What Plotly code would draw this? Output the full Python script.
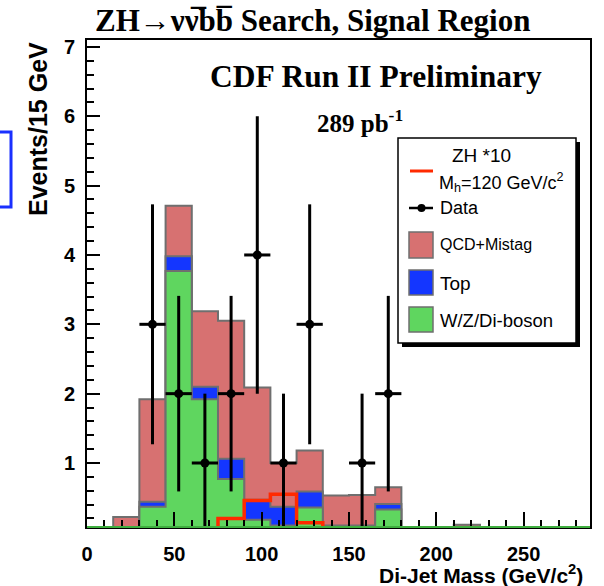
import plotly.graph_objects as go

# ---------------- data ----------------
bin_edges = [0, 15, 30, 45, 60, 75, 90, 105, 120, 135, 150, 165, 180, 195, 210, 225, 240, 255, 270, 285]
wz_diboson = [0, 0, 0.37, 3.77, 1.92, 0.77, 0.18, 0.10, 0.36, 0.05, 0.05, 0.33, 0, 0, 0, 0, 0, 0, 0]
top_vals = [0, 0, 0.07, 0.21, 0.18, 0.29, 0.29, 0.27, 0.23, 0.05, 0.05, 0.08, 0, 0, 0, 0, 0, 0, 0]
qcd_mistag = [0, 0.22, 1.48, 0.73, 1.09, 1.99, 1.62, 0.63, 0.59, 0.43, 0.44, 0.24, 0, 0, 0.11, 0, 0, 0, 0]
zh_x10 = [0, 0, 0, 0, 0, 0.20, 0.46, 0.55, 0.14, 0, 0, 0, 0, 0, 0, 0, 0, 0, 0]
data_counts = [0, 0, 3, 2, 1, 2, 4, 1, 3, 0, 1, 2, 0, 0, 0, 0, 0, 0, 0]
data_errors = [0, 0, 1.73, 1.41, 1.0, 1.41, 2.0, 1.0, 1.73, 0, 1.0, 1.41, 0, 0, 0, 0, 0, 0, 0]

# ---------------- styling ----------------
C_QCD = "#d77171"
C_TOP = "#1436ff"
C_WZ = "#5fd65f"
C_OUT = "#6f6f6f"
C_ZH = "#ff2a00"
SERIF = "Liberation Serif"
SANS = "Liberation Sans"

W, H = 604, 586
L, R, T, B = 87, 590, 40, 527  # plot area in pixels


def px(x):
    return (x - L) / (R - L)


def py(y):
    return (B - y) / (B - T)


def step(vals):
    return list(vals) + [vals[-1]]


cum_wz = wz_diboson
cum_top = [a + b for a, b in zip(wz_diboson, top_vals)]
cum_all = [a + b for a, b in zip(cum_top, qcd_mistag)]

fig = go.Figure()
for cum, col in [(cum_all, C_QCD), (cum_top, C_TOP), (cum_wz, C_WZ)]:
    fig.add_trace(go.Scatter(
        x=bin_edges, y=step(cum), mode="lines", line_shape="hv",
        line=dict(color=C_OUT, width=2), fill="tozeroy", fillcolor=col,
        showlegend=False, hoverinfo="skip"))

fig.add_trace(go.Scatter(
    x=bin_edges, y=step(zh_x10), mode="lines", line_shape="hv",
    line=dict(color=C_ZH, width=3.5), showlegend=False))

centers = [(bin_edges[i] + bin_edges[i + 1]) / 2 for i in range(len(data_counts))]
dx = [c for c, n in zip(centers, data_counts) if n > 0]
dy = [n for n in data_counts if n > 0]
de = [e for e, n in zip(data_errors, data_counts) if n > 0]
dxe = [(bin_edges[1] - bin_edges[0]) / 2] * len(dx)
fig.add_trace(go.Scatter(
    x=dx, y=dy, mode="markers",
    marker=dict(color="black", size=9),
    error_y=dict(type="data", array=de, color="black", thickness=3, width=0),
    error_x=dict(type="data", array=dxe, color="black", thickness=3, width=0),
    showlegend=False))

shapes = []
# green line along the bottom
shapes.append(dict(type="line", xref="paper", yref="paper", x0=0, x1=1, y0=0, y1=0,
                   line=dict(color="#3fae3f", width=2), layer="above"))
# blue box fragment on the left edge
shapes.append(dict(type="rect", xref="paper", yref="paper",
                   x0=px(-20), x1=px(11), y0=py(207), y1=py(132),
                   line=dict(color="#1a30ff", width=3)))
# legend shadow & box
shapes.append(dict(type="rect", xref="paper", yref="paper",
                   x0=px(402), x1=px(580), y0=py(347), y1=py(142),
                   fillcolor="black", line=dict(width=0), layer="above"))
shapes.append(dict(type="rect", xref="paper", yref="paper",
                   x0=px(398), x1=px(576), y0=py(343), y1=py(138),
                   fillcolor="white", line=dict(color="black", width=1.5), layer="above"))
# legend samples
shapes.append(dict(type="line", xref="paper", yref="paper", x0=px(410), x1=px(433),
                   y0=py(171), y1=py(171), line=dict(color=C_ZH, width=3), layer="above"))
shapes.append(dict(type="line", xref="paper", yref="paper", x0=px(409), x1=px(433),
                   y0=py(208), y1=py(208), line=dict(color="black", width=2.5), layer="above"))
shapes.append(dict(type="circle", xref="paper", yref="paper", x0=px(417.5), x1=px(425.5),
                   y0=py(212), y1=py(204), fillcolor="black", line=dict(width=0), layer="above"))
for (y0, y1), col in [((232, 258), C_QCD), ((270, 295), C_TOP), ((307, 332), C_WZ)]:
    shapes.append(dict(type="rect", xref="paper", yref="paper", x0=px(409), x1=px(433),
                       y0=py(y1), y1=py(y0), fillcolor=col,
                       line=dict(color=C_OUT, width=1.5), layer="above"))

ann = []


def text(x, y, s, size, family=SANS, weight="normal", xanchor="left", **kw):
    ann.append(dict(x=px(x), y=py(y), xref="paper", yref="paper", text=s, showarrow=False,
                    xanchor=xanchor, yanchor="middle",
                    font=dict(family=family, size=size, color="black", weight=weight), **kw))


text(312, 20, "ZH\u2192\u03bd\u03bd\u0305bb\u0305 Search, Signal Region", 31, SERIF, "bold", "center")
text(376, 77, "CDF Run II Preliminary", 31.5, SERIF, "bold", "center")
text(360, 121, "289 pb<sup>-1</sup>", 25, SERIF, "bold", "center")
text(481, 155, "ZH *10", 19, xanchor="center")
text(437, 183, "M<sub>h</sub>=120 GeV/c<sup>2</sup>", 18)
text(438, 208, "Data", 18)
text(438, 245, "QCD+Mistag", 16)
text(438, 283, "Top", 19)
text(438, 320, "W/Z/Di-boson", 18.5)
text(585, 574, "Di-Jet Mass (GeV/c<sup>2</sup>)", 21, weight="bold", xanchor="right")
ann.append(dict(x=px(38), y=py(40), xref="paper", yref="paper", text="Events/15 GeV",
                showarrow=False, textangle=-90, xanchor="center", yanchor="top",
                font=dict(family=SANS, size=25, color="black", weight="bold")))

fig.update_layout(
    width=W, height=H, margin=dict(l=L, r=W - R, t=T, b=H - B, autoexpand=False),
    paper_bgcolor="white", plot_bgcolor="white", showlegend=False,
    shapes=shapes, annotations=ann,
    xaxis=dict(range=[0, 288], tick0=0, dtick=50, ticks="inside", ticklen=15, tickwidth=1.5,
               tickcolor="black", showline=True, linecolor="black", linewidth=2, mirror=True,
               showgrid=False, zeroline=False, ticklabelstandoff=8, automargin=False,
               tickfont=dict(family=SANS, size=20, color="black", weight="bold"),
               minor=dict(dtick=10, ticks="inside", ticklen=7, tickwidth=1.5, tickcolor="black",
                          showgrid=False)),
    yaxis=dict(range=[0.077, 7.1], tick0=0, dtick=1, ticks="inside", ticklen=13, tickwidth=1.5,
               tickcolor="black", showline=True, linecolor="black", linewidth=2, mirror=True,
               showgrid=False, zeroline=False, ticklabelstandoff=6, automargin=False,
               tickfont=dict(family=SANS, size=20, color="black", weight="bold"),
               minor=dict(dtick=0.2, ticks="inside", ticklen=7, tickwidth=1.5, tickcolor="black",
                          showgrid=False)),
)

fig.write_html("out.html", config={"displayModeBar": False},
               post_script="document.body.style.margin='0';document.body.style.overflow='hidden';")
